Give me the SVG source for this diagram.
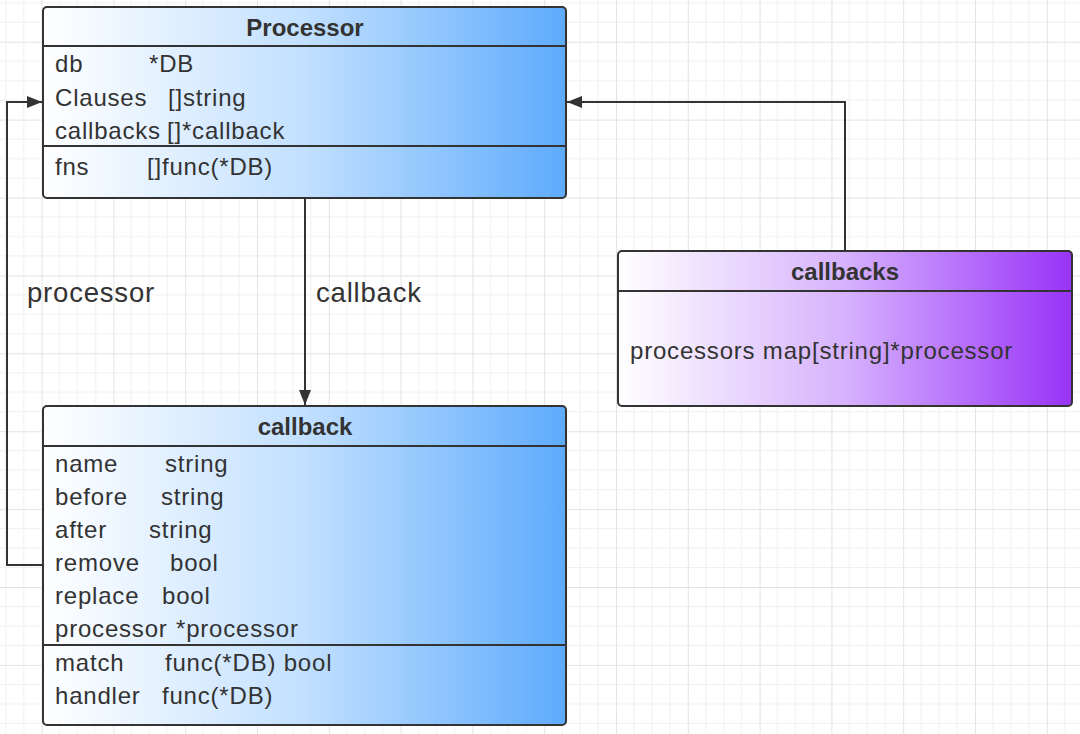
<svg xmlns="http://www.w3.org/2000/svg" width="1080" height="734" viewBox="0 0 1080 734">
  <defs>
    <pattern id="grid" patternUnits="userSpaceOnUse" x="41.6" y="41.7" width="71.8" height="77.9">
      <g stroke="#f0f0f0" stroke-width="1">
        <line x1="17.95" y1="0" x2="17.95" y2="77.9"/>
        <line x1="35.9" y1="0" x2="35.9" y2="77.9"/>
        <line x1="53.85" y1="0" x2="53.85" y2="77.9"/>
        <line x1="0" y1="19.475" x2="71.8" y2="19.475"/>
        <line x1="0" y1="38.95" x2="71.8" y2="38.95"/>
        <line x1="0" y1="58.425" x2="71.8" y2="58.425"/>
      </g>
      <g stroke="#e3e3e3" stroke-width="1">
        <line x1="0.5" y1="0" x2="0.5" y2="77.9"/>
        <line x1="0" y1="0.5" x2="71.8" y2="0.5"/>
      </g>
    </pattern>
    <linearGradient id="blue" x1="0" y1="0" x2="1" y2="0">
      <stop offset="0" stop-color="#ffffff"/>
      <stop offset="0.5" stop-color="#c2e0ff"/>
      <stop offset="1" stop-color="#5eabfc"/>
    </linearGradient>
    <linearGradient id="purple" x1="0" y1="0" x2="1" y2="0">
      <stop offset="0" stop-color="#ffffff"/>
      <stop offset="0.5" stop-color="#d6b2fc"/>
      <stop offset="1" stop-color="#9933f8"/>
    </linearGradient>
    <marker id="arrow" markerUnits="userSpaceOnUse" markerWidth="16" markerHeight="12" refX="15" refY="6" orient="auto">
      <path d="M0,0 L15,6 L0,12 Z" fill="#333333"/>
    </marker>
  </defs>
  <style>
    .box { stroke: #333333; stroke-width: 2; }
    .div { stroke: #333333; stroke-width: 2; }
    .title { font-family: "Liberation Sans", Arial, sans-serif; font-size: 24px; font-weight: bold; fill: #333333; text-anchor: middle; }
    .attr { font-family: "Liberation Sans", Arial, sans-serif; font-size: 24px; letter-spacing: 0.8px; fill: #333333; }
    .lbl { font-family: "Liberation Sans", Arial, sans-serif; font-size: 27.5px; letter-spacing: 0.8px; fill: #333333; }
    .conn { fill: none; stroke: #333333; stroke-width: 2; }
  </style>
  <rect width="1080" height="734" fill="#ffffff"/>
  <rect width="1080" height="734" fill="url(#grid)"/>

  <g id="connectors">
    <path class="conn" d="M305,198 V405" marker-end="url(#arrow)"/>
    <path class="conn" d="M43,565 H7 V102 H42" marker-end="url(#arrow)"/>
    <path class="conn" d="M845,251 V102 H567" marker-end="url(#arrow)"/>
    <text class="lbl" x="316" y="302">callback</text>
    <text class="lbl" x="27" y="302">processor</text>
  </g>

  <g id="Processor">
    <rect class="box" x="43" y="7" width="523" height="191" rx="4" fill="url(#blue)"/>
    <line class="div" x1="43" y1="46" x2="566" y2="46"/>
    <line class="div" x1="43" y1="146" x2="566" y2="146"/>
    <text class="title" x="305" y="36">Processor</text>
    <text class="attr" y="72"><tspan x="55">db</tspan><tspan x="149">*DB</tspan></text>
    <text class="attr" y="105.5"><tspan x="55">Clauses</tspan><tspan x="168">[]string</tspan></text>
    <text class="attr" y="138.5"><tspan x="55">callbacks</tspan><tspan x="167">[]*callback</tspan></text>
    <text class="attr" y="175"><tspan x="55">fns</tspan><tspan x="147">[]func(*DB)</tspan></text>
  </g>

  <g id="callback">
    <rect class="box" x="43" y="406" width="523" height="319" rx="4" fill="url(#blue)"/>
    <line class="div" x1="43" y1="446" x2="566" y2="446"/>
    <line class="div" x1="43" y1="645" x2="566" y2="645"/>
    <text class="title" x="305" y="435">callback</text>
    <text class="attr" y="472"><tspan x="55">name</tspan><tspan x="165">string</tspan></text>
    <text class="attr" y="505"><tspan x="55">before</tspan><tspan x="161">string</tspan></text>
    <text class="attr" y="538"><tspan x="55">after</tspan><tspan x="149">string</tspan></text>
    <text class="attr" y="571"><tspan x="55">remove</tspan><tspan x="170">bool</tspan></text>
    <text class="attr" y="604"><tspan x="55">replace</tspan><tspan x="162">bool</tspan></text>
    <text class="attr" y="637"><tspan x="55">processor</tspan><tspan x="176">*processor</tspan></text>
    <text class="attr" y="671"><tspan x="55">match</tspan><tspan x="165">func(*DB) bool</tspan></text>
    <text class="attr" y="704"><tspan x="55">handler</tspan><tspan x="162">func(*DB)</tspan></text>
  </g>

  <g id="callbacks">
    <rect class="box" x="618" y="251" width="454" height="155" rx="4" fill="url(#purple)"/>
    <line class="div" x1="618" y1="291" x2="1072" y2="291"/>
    <text class="title" x="845" y="280">callbacks</text>
    <text class="attr" x="630" y="359">processors map[string]*processor</text>
  </g>
</svg>
